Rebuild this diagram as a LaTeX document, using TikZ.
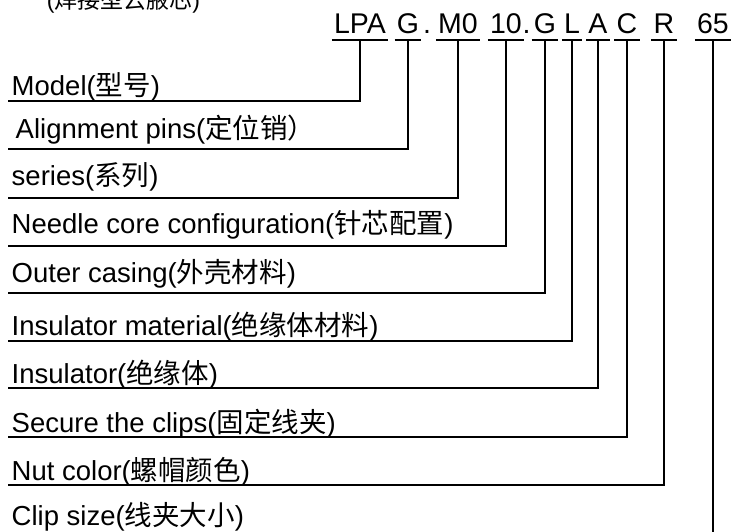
\documentclass[tikz,border=0pt]{standalone}
\usepackage{fontspec}
\setmainfont{Liberation Sans}
\newfontfamily\cjk{Noto Sans CJK SC}
\begin{document}
\begin{tikzpicture}[x=1pt, y=-1pt, line width=1.5pt,
	every node/.style={font=\fontsize{27.5}{30}\selectfont},
	part/.style={anchor=base, inner sep=0pt, text depth=6pt, font=\fontsize{28.5}{30}\selectfont},
	lbl/.style={anchor=base west, inner sep=0pt}]
	\useasboundingbox (0,0) rectangle (732,531);
	\node[lbl, font=\fontsize{23}{26}\selectfont] (cap) at (46,8) {({\cjk 焊接型云腋芯})};
	% code parts, underlined
	\foreach \n/\t/\x in {lpa/LPA/360, pin/G/408, ser/M0/458, core/10/506, shell/G/545, insmat/L/572, ins/A/598, fix/C/627, nut/R/664, size/65/713}
		{\node[part] (\n) at (\x,33) {\t}; \draw ([xshift=-1.5pt]\n.south west) -- ([xshift=1.5pt]\n.south east);}
	\node[part] (dot1) at (427,33) {.};
	\node[part] (dot2) at (526.5,33) {.};
	% labels
	\foreach \n/\t/\x/\y in {model/{Model({\cjk 型号})}/11/95, align/{Alignment pins({\cjk 定位销）}}/15/138, series/{series({\cjk 系列})}/11/185, needle/{Needle core configuration({\cjk 针芯配置})}/11/233, outer/{Outer casing({\cjk 外壳材料})}/11/282, insmatl/{Insulator material({\cjk 绝缘体材料})}/11/335, insl/{Insulator({\cjk 绝缘体})}/11/383, secure/{Secure the clips({\cjk 固定线夹})}/11/432, color/{Nut color({\cjk 螺帽颜色})}/11/480, clipsize/{Clip size({\cjk 线夹大小})}/11/525}
		{\node[lbl] (\n) at (\x,\y) {\t};}
	% connectors
	\foreach \c/\r/\y in {lpa/model/101, pin/align/149, ser/series/198, core/needle/246, shell/outer/293, insmat/insmatl/341, ins/insl/388, fix/secure/437, nut/color/485, size/clipsize/533}
		{\coordinate (\r-end) at (8,\y); \draw (\c.south) |- (\r-end);}
\end{tikzpicture}
\end{document}
